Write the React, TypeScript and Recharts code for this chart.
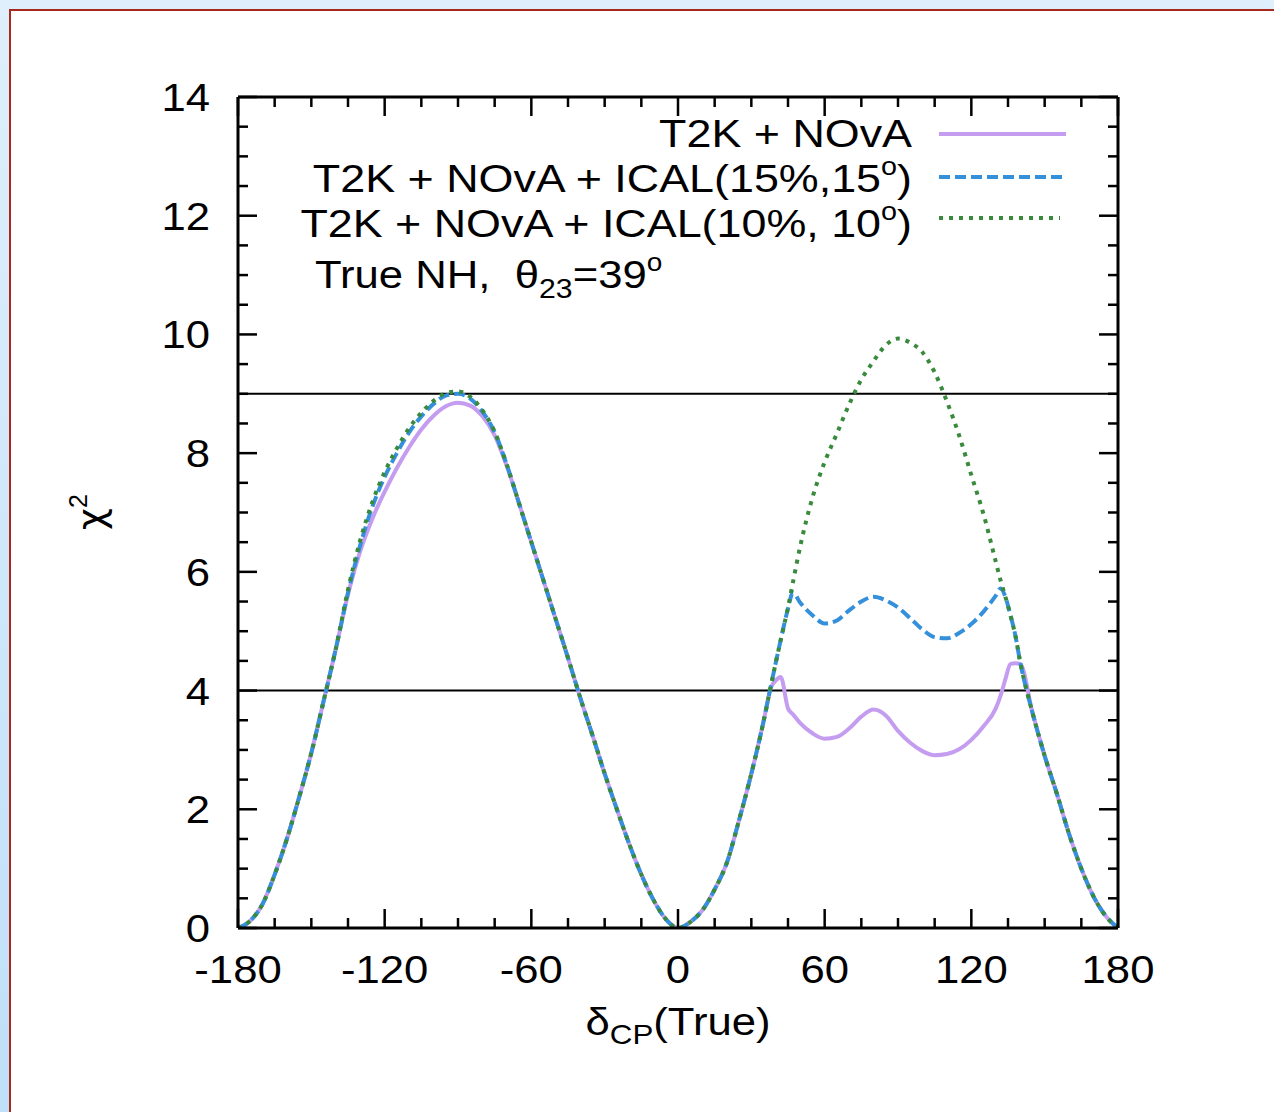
import React from "react";
import { LineChart, Line, XAxis, YAxis, ReferenceLine } from "recharts";

// delta_CP (true) in degrees
const deltaCP = [
  -180, -175, -170, -165, -160, -155, -150, -145, -140, -135, -130, -125, -120, -115, -110, -105, -100, -95, -90,
  -85, -80, -75, -70, -65, -60, -55, -50, -45, -40, -35, -30, -25, -20, -15, -10, -5, 0,
  5, 10, 15, 20, 25, 30, 35, 38, 40, 42, 45, 47, 50, 55, 60, 65, 70, 75, 80, 85, 90, 95, 100, 105, 110, 115, 120,
  125, 130, 132, 134, 136, 138, 140, 145, 150, 155, 160, 165, 170, 175, 180,
];

// chi^2 : T2K + NOvA
const t2kNova = [
  0, 0.12, 0.4, 0.9, 1.5, 2.2, 2.95, 3.82, 4.7, 5.62, 6.35, 6.9, 7.35, 7.75, 8.1, 8.4, 8.63, 8.79, 8.85,
  8.8, 8.62, 8.3, 7.78, 7.15, 6.5, 5.85, 5.2, 4.55, 3.88, 3.25, 2.6, 2.0, 1.42, 0.9, 0.47, 0.15, 0,
  0.1, 0.3, 0.65, 1.1, 1.82, 2.6, 3.48, 4.05, 4.17, 4.23, 3.7, 3.6, 3.45, 3.28, 3.19, 3.22, 3.36, 3.56, 3.68, 3.58,
  3.32, 3.12, 2.98, 2.91, 2.93, 3.01, 3.17, 3.4, 3.7, 3.92, 4.2, 4.45, 4.46, 4.45, 3.63, 2.9, 2.26, 1.58, 1.0, 0.53,
  0.2, 0,
];

// chi^2 : T2K + NOvA + ICAL(15%, 15 deg)
const ical15 = [
  0, 0.12, 0.4, 0.9, 1.5, 2.2, 2.95, 3.82, 4.7, 5.65, 6.45, 7.1, 7.6, 8.0, 8.35, 8.62, 8.83, 8.97, 9.0,
  8.92, 8.7, 8.35, 7.8, 7.15, 6.5, 5.85, 5.2, 4.55, 3.88, 3.25, 2.6, 2.0, 1.42, 0.9, 0.47, 0.15, 0,
  0.1, 0.3, 0.65, 1.1, 1.82, 2.6, 3.48, 4.08, 4.47, 4.85, 5.38, 5.65, 5.48, 5.27, 5.13, 5.18, 5.35, 5.5, 5.58, 5.52,
  5.4, 5.22, 5.03, 4.9, 4.88, 4.97, 5.12, 5.33, 5.6, 5.72, 5.57, 5.27, 4.93, 4.48, 3.63, 2.9, 2.26, 1.58, 1.0, 0.53,
  0.2, 0,
];

// chi^2 : T2K + NOvA + ICAL(10%, 10 deg)
const ical10 = [
  0, 0.12, 0.4, 0.9, 1.5, 2.2, 2.95, 3.82, 4.7, 5.7, 6.53, 7.18, 7.68, 8.08, 8.42, 8.68, 8.88, 9.01, 9.04,
  8.95, 8.72, 8.36, 7.8, 7.15, 6.5, 5.85, 5.2, 4.55, 3.88, 3.25, 2.6, 2.0, 1.42, 0.9, 0.47, 0.15, 0,
  0.1, 0.3, 0.65, 1.1, 1.82, 2.6, 3.48, 4.08, 4.47, 4.85, 5.4, 5.82, 6.43, 7.25, 7.85, 8.33, 8.82, 9.24, 9.55, 9.82,
  9.93, 9.86, 9.7, 9.36, 8.87, 8.3, 7.63, 6.97, 6.17, 5.85, 5.57, 5.27, 4.93, 4.48, 3.63, 2.9, 2.26, 1.58, 1.0, 0.53,
  0.2, 0,
];

const xMajorTicks = [-180, -120, -60, 0, 60, 120, 180];
const xTicks = [
  -180, -165, -150, -135, -120, -105, -90, -75, -60, -45, -30, -15, 0, 15, 30, 45, 60, 75, 90, 105, 120, 135, 150, 165, 180,
];
const yMajorTicks = [0, 2, 4, 6, 8, 10, 12, 14];
const yTicks = [
  0, 0.5, 1, 1.5, 2, 2.5, 3, 3.5, 4, 4.5, 5, 5.5, 6, 6.5, 7, 7.5, 8, 8.5, 9, 9.5, 10, 10.5, 11, 11.5, 12, 12.5, 13,
  13.5, 14,
];
const chiLevels = [4, 9];

const data = deltaCP.map((d, i) => ({ d, a: t2kNova[i], b: ical15[i], c: ical10[i] }));

const FONT = "'Liberation Sans', Arial, Helvetica, sans-serif";
const PURPLE = "#c49cf0";
const BLUE = "#3490da";
const GREEN = "#3a8a3c";
const MAJOR = 19;
const MINOR = 10;

const Label = ({ x, y, anchor = "middle", size = 39, sx = 1.12, children }: any) => (
  <text
    transform={`translate(${x},${y}) scale(${sx},1)`}
    x={0}
    y={0}
    textAnchor={anchor}
    fontFamily={FONT}
    fontSize={size}
    fill="#000"
  >
    {children}
  </text>
);

const BottomTick = ({ x, y, payload }: any) => {
  const major = xMajorTicks.includes(payload.value);
  return (
    <g>
      <line x1={x} x2={x} y1={y} y2={y - (major ? MAJOR : MINOR)} stroke="#000" strokeWidth={2.5} />
      {major && (
        <Label x={x} y={y + 55}>
          {payload.value}
        </Label>
      )}
    </g>
  );
};

const TopTick = ({ x, y, payload }: any) => {
  const major = xMajorTicks.includes(payload.value);
  return <line x1={x} x2={x} y1={y} y2={y + (major ? MAJOR : MINOR)} stroke="#000" strokeWidth={2.5} />;
};

const LeftTick = ({ x, y, payload }: any) => {
  const major = yMajorTicks.includes(payload.value);
  return (
    <g>
      <line x1={x} x2={x + (major ? MAJOR : MINOR)} y1={y} y2={y} stroke="#000" strokeWidth={2.5} />
      {major && (
        <Label x={x - 28} y={y + 14} anchor="end">
          {payload.value}
        </Label>
      )}
    </g>
  );
};

const RightTick = ({ x, y, payload }: any) => {
  const major = yMajorTicks.includes(payload.value);
  return <line x1={x} x2={x - (major ? MAJOR : MINOR)} y1={y} y2={y} stroke="#000" strokeWidth={2.5} />;
};

const axisLine = { stroke: "#000", strokeWidth: 3 };

const App = () => {
  return (
    <div
      style={{
        position: "absolute",
        left: 0,
        top: 0,
        width: 1274,
        height: 1112,
        overflow: "hidden",
        background: "linear-gradient(#dfeffb, #bfdff8)",
      }}
    >
      <div
        style={{
          position: "absolute",
          left: 9,
          top: 9,
          width: 1300,
          height: 1150,
          background: "#fff",
          borderTop: "2px solid #a8281e",
          borderLeft: "2px solid #a8281e",
        }}
      />
      <div style={{ position: "absolute", left: 0, top: 0 }}>
        <LineChart width={1274} height={1112} data={data} margin={{ top: 96, right: 155, left: 0, bottom: 0 }}>
          <XAxis
            dataKey="d"
            type="number"
            domain={[-180, 180]}
            ticks={xTicks}
            interval={0}
            height={184}
            tickSize={0}
            tickMargin={0}
            tickLine={false}
            axisLine={axisLine}
            tick={<BottomTick />}
            allowDataOverflow
          />
          <XAxis
            xAxisId="top"
            dataKey="d"
            orientation="top"
            type="number"
            domain={[-180, 180]}
            ticks={xTicks}
            interval={0}
            height={1}
            tickSize={0}
            tickMargin={0}
            tickLine={false}
            axisLine={axisLine}
            tick={<TopTick />}
            allowDataOverflow
          />
          <YAxis
            type="number"
            domain={[0, 14]}
            ticks={yTicks}
            interval={0}
            width={238}
            tickSize={0}
            tickMargin={0}
            tickLine={false}
            axisLine={axisLine}
            tick={<LeftTick />}
            allowDataOverflow
          />
          <YAxis
            yAxisId="right"
            orientation="right"
            type="number"
            domain={[0, 14]}
            ticks={yTicks}
            interval={0}
            width={1}
            tickSize={0}
            tickMargin={0}
            tickLine={false}
            axisLine={axisLine}
            tick={<RightTick />}
            allowDataOverflow
          />
          {chiLevels.map((v) => (
            <ReferenceLine key={v} y={v} stroke="#000" strokeWidth={2} />
          ))}
          <Line type="monotone" dataKey="a" stroke={PURPLE} strokeWidth={4} dot={false} isAnimationActive={false} />
          <Line
            type="monotone"
            dataKey="b"
            stroke={BLUE}
            strokeWidth={4}
            strokeDasharray="11 5"
            dot={false}
            isAnimationActive={false}
          />
          <Line
            type="monotone"
            dataKey="c"
            stroke={GREEN}
            strokeWidth={4}
            strokeDasharray="4 6"
            dot={false}
            isAnimationActive={false}
          />
        </LineChart>
      </div>

      {/* legend, annotation and axis titles */}
      <svg width={1274} height={1112} style={{ position: "absolute", left: 0, top: 0, pointerEvents: "none" }}>
        <Label x={912} y={147} anchor="end" sx={1.15}>
          T2K + NOvA
        </Label>
        <Label x={912} y={192} anchor="end" sx={1.15}>
          T2K + NOvA + ICAL(15%,15
          <tspan dy={-17} fontSize={25}>
            o
          </tspan>
          <tspan dy={17}>)</tspan>
        </Label>
        <Label x={912} y={237} anchor="end" sx={1.15}>
          T2K + NOvA + ICAL(10%, 10
          <tspan dy={-17} fontSize={25}>
            o
          </tspan>
          <tspan dy={17}>)</tspan>
        </Label>
        <line x1={939} x2={1066} y1={134} y2={134} stroke={PURPLE} strokeWidth={4} />
        <line x1={939} x2={1066} y1={177} y2={177} stroke={BLUE} strokeWidth={4} strokeDasharray="11 5" />
        <line x1={939} x2={1060} y1={218} y2={218} stroke={GREEN} strokeWidth={4} strokeDasharray="4 6" />

        <Label x={315} y={288} anchor="start" sx={1.12}>
          True NH,{"\u00a0\u00a0"}θ
          <tspan dy={10} fontSize={27}>
            23
          </tspan>
          <tspan dy={-10}>=39</tspan>
          <tspan dy={-17} fontSize={25}>
            o
          </tspan>
        </Label>

        <text
          transform="translate(104,512) rotate(-90)"
          textAnchor="middle"
          fontFamily="'DejaVu Sans', sans-serif"
          fontSize={38}
          fill="#000"
        >
          χ
          <tspan dy={-17} fontSize={25} fontFamily={FONT}>
            2
          </tspan>
        </text>

        <Label x={678} y={1035}>
          δ
          <tspan dy={9} fontSize={28}>
            CP
          </tspan>
          <tspan dy={-9}>(True)</tspan>
        </Label>
      </svg>
    </div>
  );
};

export default App;
